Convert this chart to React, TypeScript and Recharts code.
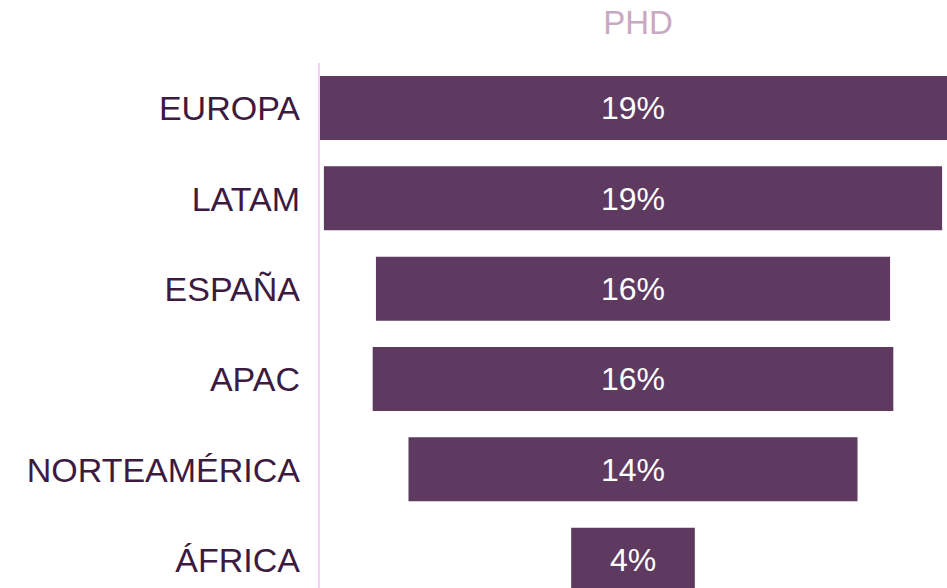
import React from 'react';
import { BarChart, Bar, XAxis, YAxis, LabelList } from 'recharts';

const regions = ['EUROPA', 'LATAM', 'ESPAÑA', 'APAC', 'NORTEAMÉRICA', 'ÁFRICA'];
const phdShare = [19.3, 19.0, 15.8, 16.0, 13.8, 3.8];

const BAR = '#5e3a60';
const TEXT = '#3d1a40';
const AXIS = '#f1d2f1';
const FONT = '"Liberation Sans", Arial, sans-serif';

const rows = regions.map((region, i) => ({
  region,
  value: phdShare[i],
  label: `${Math.round(phdShare[i])}%`,
}));

export default function App() {
  return (
    <div style={{ position: 'absolute', left: 0, top: 0, width: 947, height: 605, background: '#fff' }}>
      <div
        style={{
          position: 'absolute',
          left: 538,
          width: 200,
          top: 4,
          textAlign: 'center',
          fontFamily: FONT,
          fontSize: 33,
          color: '#c9a8c4',
        }}
      >
        PHD
      </div>
      <BarChart
        width={947}
        height={605}
        data={rows}
        layout="vertical"
        margin={{ top: 63, right: 0, bottom: 0, left: 0 }}
      >
        <XAxis type="number" domain={[-9.65, 9.65]} hide />
        <YAxis
          type="category"
          dataKey="region"
          width={319}
          tickLine={false}
          tickSize={6}
          tickMargin={13}
          axisLine={{ stroke: AXIS, strokeWidth: 2 }}
          tick={{ fill: TEXT, fontSize: 34, fontFamily: FONT }}
        />
        <Bar
          dataKey={(d: { value: number }) => [-d.value / 2, d.value / 2]}
          fill={BAR}
          barSize={64}
          isAnimationActive={false}
        >
          <LabelList
            dataKey="label"
            position="center"
            fill="#fff"
            style={{ fontSize: 32, fontFamily: FONT }}
          />
        </Bar>
      </BarChart>
    </div>
  );
}
